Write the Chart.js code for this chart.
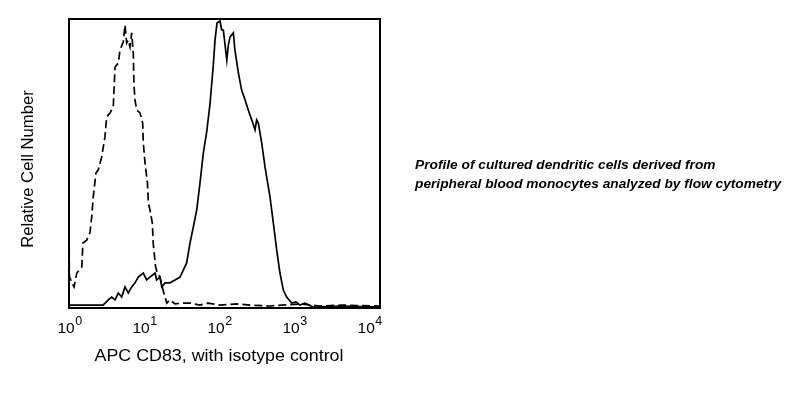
<!DOCTYPE html>
<html>
<head>
<meta charset="utf-8">
<script src="https://cdn.jsdelivr.net/npm/chart.js@4/dist/chart.umd.min.js"></script>
<style>
  body { margin: 0; background: #fff; }
  #wrap { width: 804px; height: 395px; }
</style>
</head>
<body>
<div id="wrap"><canvas id="grafico" width="804" height="395"></canvas></div>
<script>
// isotype control (dashed) - fluorescence vs relative count
const isoX = [1, 1.01, 1.09, 1.16, 1.26, 1.46, 1.51, 1.69, 1.86, 1.96, 2.05, 2.22, 2.38, 2.63, 2.76,
  2.90, 3.05, 3.37, 3.71, 3.91, 4.31, 4.53, 4.99, 5.25, 5.52, 5.79, 6.09, 6.40, 6.71, 6.85,
  7.06, 7.43, 8.19, 8.87, 9.03, 9.50, 10.2, 10.5, 11.0, 11.8, 12.1, 13.0, 13.7, 14.8, 16.2,
  18.1, 19.9, 23.1, 29.3, 36.0, 48.4, 61.3, 87.5, 145, 213, 385, 936, 1690, 3240, 10000]
const isoY = [37, 11, 8.7, 7.3, 12.1, 14.2, 22.5, 23.5, 26.0, 31.5, 38.4, 46.7, 47.8, 52.2, 55.7,
  59.2, 66.1, 67.5, 69.6, 83.4, 84.8, 89.3, 92.0, 97.9, 91.7, 92.7, 90.3, 95.2, 88.2, 77.2,
  72.0, 68.5, 67.5, 64.0, 57.1, 50.2, 43.3, 36.3, 33.9, 29.4, 22.5, 14.2, 12.1, 10.7, 6.2,
  1.7, 2.8, 1.4, 1.7, 1.7, 1.0, 1.7, 1.0, 1.4, 1.0, 0.7, 1.4, 0.7, 1.0, 0.7]

// APC CD83 (solid)
const cd83X = [1, 1.61, 2.74, 3.20, 3.54, 3.91, 4.31, 4.76, 5.25, 5.79, 6.40, 7.06, 7.78, 9.03, 9.98,
  11.0, 12.8, 13.4, 14.8, 15.6, 17.2, 19.9, 23.1, 26.8, 29.5, 32.6, 36.0, 39.7, 43.9, 48.4,
  53.4, 59.0, 65.1, 71.8, 75.5, 80.1, 87.5, 92.0, 96.6, 101, 107, 112, 118, 130, 136,
  151, 166, 184, 202, 224, 247, 259, 272, 301, 332, 349, 385, 425, 469, 517,
  571, 631, 731, 831, 936, 1084, 1374, 3240, 10000]
const cd83Y = [1.0, 1.0, 1.0, 2.8, 3.8, 2.8, 5.2, 3.8, 7.3, 5.2, 7.3, 8.7, 10.7, 12.1, 9.7,
  10.7, 12.1, 9.7, 10.7, 7.3, 8.7, 8.7, 9.7, 10.7, 13.1, 15.6, 22.5, 28.0, 33.9, 43.3,
  53.6, 60.9, 70.6, 84.1, 92.7, 98.6, 99.3, 96.2, 96.2, 91.7, 85.8, 91.0, 93.8, 95.2, 89.3,
  81.3, 75.4, 72.0, 68.5, 65.1, 61.6, 65.1, 64.0, 57.1, 48.8, 45.3, 38.4, 29.4, 20.1, 12.1,
  6.2, 3.8, 1.7, 2.1, 1.0, 1.7, 0.3, 0.7, 0.3]

const tickValues = [1, 10, 100, 1000, 10000]
const tickExp = ["0", "1", "2", "3", "4"]

const tituloX = "APC CD83, with isotype control"
const tituloY = "Relative Cell Number"
const nota = ["Profile of cultured dendritic cells derived from",
  "peripheral blood monocytes analyzed by flow cytometry"]

const fonte = "'Liberation Sans', Arial, sans-serif"

function pontos(xs, ys) {
  return xs.map((x, i) => ({ x: x, y: ys[i] }))
}

// texto esticado na horizontal (a figura original esta um pouco larga)
function textoLargo(ctx, txt, x, y, esc) {
  ctx.save()
  ctx.translate(x, y)
  ctx.scale(esc, 1)
  ctx.fillText(txt, 0, 0)
  ctx.restore()
}

// moldura, rotulos e texto ao lado
const extras = {
  id: "extras",
  afterDraw(chart) {
    const ctx = chart.ctx
    const a = chart.chartArea
    const sx = chart.scales.x
    ctx.save()
    ctx.strokeStyle = "#000"
    ctx.lineWidth = 2
    ctx.strokeRect(a.left, a.top, a.right - a.left, a.bottom - a.top)

    ctx.fillStyle = "#000"
    ctx.textBaseline = "alphabetic"
    tickValues.forEach((v, i) => {
      const t = sx.getPixelForValue(v)
      const px = a.left + (t - a.left) * 0.965 + 1
      ctx.font = "15.5px " + fonte
      const wBase = ctx.measureText("10").width
      ctx.font = "12.5px " + fonte
      const wExp = ctx.measureText(tickExp[i]).width
      const x0 = px - (wBase + wExp + 1) / 2
      ctx.textAlign = "left"
      ctx.font = "15.5px " + fonte
      ctx.fillText("10", x0, 333)
      ctx.font = "12.5px " + fonte
      ctx.fillText(tickExp[i], x0 + wBase + 0.5, 325)
    })

    ctx.font = "17px " + fonte
    ctx.textAlign = "center"
    textoLargo(ctx, tituloX, 219, 361, 1.05)

    ctx.save()
    ctx.font = "16.7px " + fonte
    ctx.translate(33, 169)
    ctx.rotate(-Math.PI / 2)
    ctx.fillText(tituloY, 0, 0)
    ctx.restore()

    ctx.font = "italic bold 12.6px " + fonte
    ctx.textAlign = "left"
    textoLargo(ctx, nota[0], 415, 169, 1.09)
    textoLargo(ctx, nota[1], 415, 188, 1.09)
    ctx.restore()
  }
}

new Chart(document.getElementById("grafico"), {
  type: "line",
  data: {
    datasets: [
      {
        label: "Isotype",
        data: pontos(isoX, isoY),
        borderColor: "#000",
        borderWidth: 1.7,
        borderDash: [8, 4],
        pointRadius: 0,
        tension: 0,
        fill: false
      },
      {
        label: "CD83",
        data: pontos(cd83X, cd83Y),
        borderColor: "#000",
        borderWidth: 1.7,
        pointRadius: 0,
        tension: 0,
        fill: false
      }
    ]
  },
  options: {
    responsive: false,
    animation: false,
    layout: { padding: { left: 69, top: 19, right: 424, bottom: 87 } },
    plugins: { legend: { display: false }, tooltip: { enabled: false } },
    scales: {
      x: { type: "logarithmic", min: 1, max: 10000, display: false },
      y: { min: 0, max: 100, display: false }
    }
  },
  plugins: [extras]
})
</script>
</body>
</html>
